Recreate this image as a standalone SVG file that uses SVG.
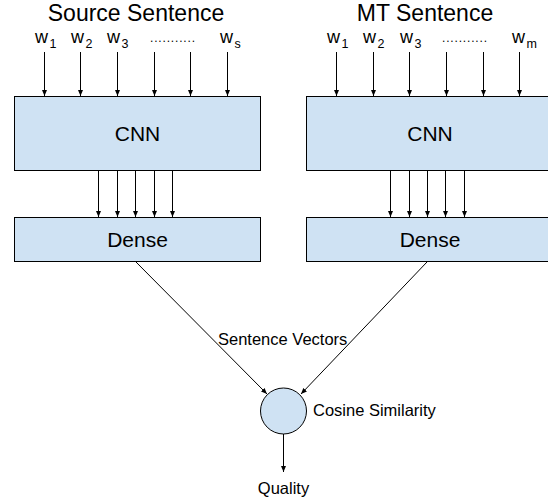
<svg xmlns="http://www.w3.org/2000/svg" width="548" height="503" viewBox="0 0 548 503">
<style>
  .box { fill: #cfe2f3; stroke: #000; stroke-width: 1; }
  .t { font-family: "Liberation Sans", Arial, sans-serif; fill: #000; }
  .title { font-size: 23px; text-anchor: middle; }
  .big { font-size: 21px; text-anchor: middle; }
  .w { font-size: 18px; }
  .sub { font-size: 12.5px; }
  .dots { font-size: 12px; }
  .lbl { font-size: 16.5px; }
  .c { stroke: #000; stroke-width: 1; fill: none; marker-end: url(#ah); }
</style>
<defs>
  <marker id="ah" viewBox="0 0 6 6" refX="6" refY="3" markerWidth="6" markerHeight="6" markerUnits="userSpaceOnUse" orient="auto">
    <path d="M0,0.5 L6,3 L0,5.5 Z" fill="#000"/>
  </marker>
</defs>

<g id="source-title"><text class="t title" x="136" y="21">Source Sentence</text></g>
<g id="mt-title"><text class="t title" x="425" y="21">MT Sentence</text></g>

<g id="source-words">
  <text class="t w" x="35" y="43">w<tspan class="sub" dx="1.5" dy="5">1</tspan></text>
  <text class="t w" x="71" y="43">w<tspan class="sub" dx="1.5" dy="5">2</tspan></text>
  <text class="t w" x="107" y="43">w<tspan class="sub" dx="1.5" dy="5">3</tspan></text>
  <text class="t dots" x="150" y="42" textLength="45">...........</text>
  <text class="t w" x="220" y="43">w<tspan class="sub" dx="1.5" dy="5">s</tspan></text>
</g>
<g id="mt-words">
  <text class="t w" x="327" y="43">w<tspan class="sub" dx="1.5" dy="5">1</tspan></text>
  <text class="t w" x="363" y="43">w<tspan class="sub" dx="1.5" dy="5">2</tspan></text>
  <text class="t w" x="400" y="43">w<tspan class="sub" dx="1.5" dy="5">3</tspan></text>
  <text class="t dots" x="442" y="42" textLength="45">...........</text>
  <text class="t w" x="512" y="43">w<tspan class="sub" dx="1.5" dy="5">m</tspan></text>
</g>

<g id="source-cnn">
  <rect class="box" x="14.5" y="96.5" width="246" height="74"/>
  <text class="t big" x="137.5" y="141">CNN</text>
</g>
<g id="source-dense">
  <rect class="box" x="14.5" y="217.5" width="246" height="44"/>
  <text class="t big" x="137.5" y="247">Dense</text>
</g>
<g id="mt-cnn">
  <rect class="box" x="306.5" y="96.5" width="250" height="74"/>
  <text class="t big" x="430" y="141">CNN</text>
</g>
<g id="mt-dense">
  <rect class="box" x="306.5" y="217.5" width="250" height="44"/>
  <text class="t big" x="430" y="247">Dense</text>
</g>
<g id="cosine">
  <circle class="box" cx="283.5" cy="411" r="23"/>
  <text class="t lbl" x="313" y="416">Cosine Similarity</text>
</g>
<g id="quality"><text class="t lbl" x="283.5" y="494" text-anchor="middle">Quality</text></g>
<g id="vectors-label"><text class="t lbl" x="218" y="345">Sentence Vectors</text></g>

<g id="connectors">
  <line class="c" x1="44.5" y1="52" x2="44.5" y2="96"/>
  <line class="c" x1="80.5" y1="52" x2="80.5" y2="96"/>
  <line class="c" x1="117.5" y1="52" x2="117.5" y2="96"/>
  <line class="c" x1="154.5" y1="52" x2="154.5" y2="96"/>
  <line class="c" x1="190.5" y1="52" x2="190.5" y2="96"/>
  <line class="c" x1="227.5" y1="52" x2="227.5" y2="96"/>
  <line class="c" x1="336.5" y1="52" x2="336.5" y2="96"/>
  <line class="c" x1="373.5" y1="52" x2="373.5" y2="96"/>
  <line class="c" x1="409.5" y1="52" x2="409.5" y2="96"/>
  <line class="c" x1="446.5" y1="52" x2="446.5" y2="96"/>
  <line class="c" x1="483.5" y1="52" x2="483.5" y2="96"/>
  <line class="c" x1="519.5" y1="52" x2="519.5" y2="96"/>

  <line class="c" x1="98.5" y1="171" x2="98.5" y2="217"/>
  <line class="c" x1="117.5" y1="171" x2="117.5" y2="217"/>
  <line class="c" x1="135.5" y1="171" x2="135.5" y2="217"/>
  <line class="c" x1="154.5" y1="171" x2="154.5" y2="217"/>
  <line class="c" x1="172.5" y1="171" x2="172.5" y2="217"/>
  <line class="c" x1="390.5" y1="171" x2="390.5" y2="217"/>
  <line class="c" x1="409.5" y1="171" x2="409.5" y2="217"/>
  <line class="c" x1="427.5" y1="171" x2="427.5" y2="217"/>
  <line class="c" x1="445.5" y1="171" x2="445.5" y2="217"/>
  <line class="c" x1="464.5" y1="171" x2="464.5" y2="217"/>

  <line class="c" x1="136" y1="262" x2="267" y2="394"/>
  <line class="c" x1="427" y1="262" x2="301" y2="394"/>
  <line class="c" x1="283.5" y1="434" x2="283.5" y2="472"/>
</g>
</svg>
